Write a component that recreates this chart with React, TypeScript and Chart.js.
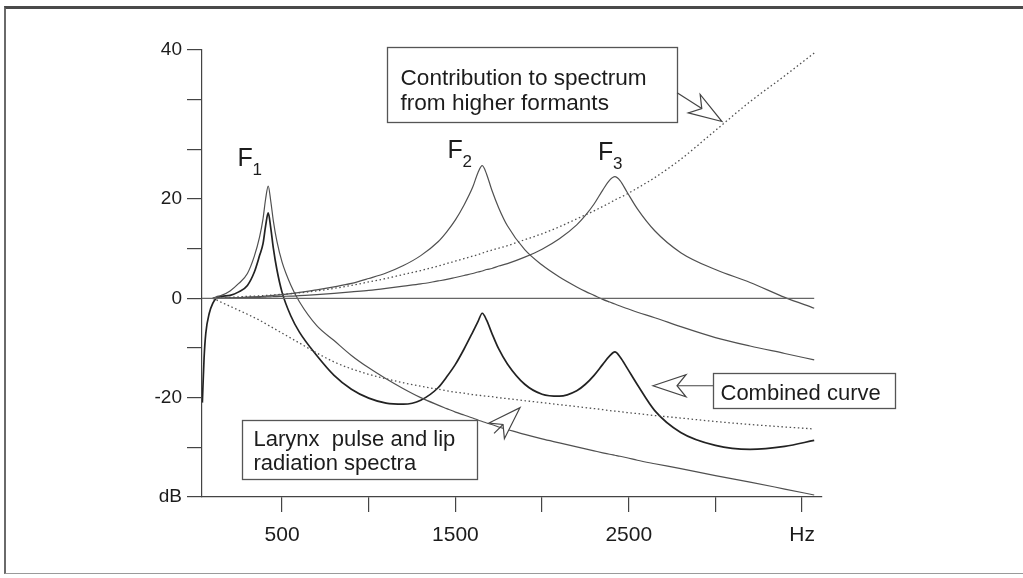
import React, { useEffect, useRef } from "react";
import { Chart, registerables } from "chart.js";

Chart.register(...registerables);

// ---- Data ----
const hz = [40, 50, 60, 80, 100, 120, 150, 200, 250, 300, 340, 370, 390, 405, 420, 435, 450, 470, 500, 550, 600, 700, 800, 900, 1000, 1100, 1200, 1300, 1400, 1450, 1500, 1550, 1600, 1630, 1655, 1680, 1710, 1750, 1800, 1900, 2000, 2100, 2200, 2250, 2300, 2350, 2390, 2420, 2450, 2490, 2550, 2650, 2800, 3000, 3200, 3400, 3570];

const f1Resonance = [null, null, null, null, 0, 0.3, 0.6, 1.5, 3.0, 5.0, 8.5, 12.3, 16.0, 20.0, 22.6, 19.5, 15.5, 11.5, 7.3, 2.7, -0.7, -5.5, -8.5, -11.5, -14.0, -16.2, -18.2, -20.0, -21.5, -22.2, -22.9, -23.5, -24.1, -24.5, -24.8, -25.1, -25.4, -25.9, -26.4, -27.4, -28.3, -29.1, -29.9, -30.3, -30.7, -31.1, -31.4, -31.6, -31.8, -32.1, -32.6, -33.3, -34.3, -35.7, -37.0, -38.4, -39.6];

const f2Resonance = [null, null, null, null, 0, 0, 0.05, 0.1, 0.15, 0.25, 0.3, 0.35, 0.4, 0.45, 0.5, 0.55, 0.6, 0.65, 0.75, 0.95, 1.2, 1.7, 2.3, 3.0, 4.0, 5.1, 6.6, 8.6, 11.4, 13.4, 15.8, 18.8, 22.4, 25.3, 26.7, 25.0, 21.8, 18.2, 14.6, 9.8, 6.7, 4.3, 2.3, 1.4, 0.6, -0.2, -0.75, -1.15, -1.55, -2.05, -2.8, -3.9, -5.7, -7.9, -9.6, -11.1, -12.4];

const f3Resonance = [null, null, null, null, 0, 0, 0, 0.05, 0.1, 0.15, 0.2, 0.2, 0.25, 0.25, 0.3, 0.3, 0.35, 0.35, 0.4, 0.45, 0.55, 0.75, 1.0, 1.3, 1.6, 2.0, 2.45, 2.9, 3.5, 3.8, 4.2, 4.6, 5.0, 5.3, 5.5, 5.8, 6.0, 6.5, 7.0, 8.3, 9.9, 12.0, 14.8, 16.7, 19.0, 21.8, 23.8, 24.5, 23.7, 21.4, 18.0, 13.6, 9.2, 5.8, 3.2, 0.2, -2.0];

const higherFormants = [null, null, null, null, 0, 0.05, 0.1, 0.2, 0.3, 0.4, 0.45, 0.5, 0.55, 0.6, 0.6, 0.65, 0.7, 0.75, 0.8, 0.95, 1.1, 1.5, 2.0, 2.6, 3.3, 4.0, 4.8, 5.6, 6.5, 7.0, 7.5, 8.0, 8.5, 8.8, 9.1, 9.4, 9.7, 10.1, 10.6, 11.8, 13.0, 14.4, 16.0, 16.8, 17.6, 18.5, 19.2, 19.8, 20.3, 21.0, 22.2, 24.3, 28.0, 33.8, 39.6, 44.8, 49.4];

const larynxLip = [null, null, null, null, 0, -0.3, -0.8, -1.6, -2.4, -3.2, -3.9, -4.4, -4.8, -5.1, -5.4, -5.7, -6.0, -6.4, -7.0, -8.0, -9.0, -11.0, -12.8, -14.2, -15.3, -16.2, -17.0, -17.7, -18.3, -18.6, -18.9, -19.1, -19.4, -19.5, -19.6, -19.7, -19.8, -20.0, -20.2, -20.6, -21.0, -21.4, -21.8, -22.0, -22.2, -22.4, -22.6, -22.7, -22.8, -23.0, -23.2, -23.6, -24.1, -24.8, -25.4, -25.9, -26.3];

const combined = [-21, -12, -7, -3, -1, 0, 0.4, 0.6, 1.3, 2.6, 5.3, 8.6, 11.0, 14.6, 17.2, 14.1, 10.0, 5.8, 1.2, -3.5, -6.8, -11.5, -15.5, -18.3, -20.1, -21.1, -21.3, -20.5, -18.0, -15.8, -13.3, -10.2, -6.8, -4.7, -3.0, -4.4, -7.0, -10.2, -13.2, -17.3, -19.3, -19.7, -18.6, -17.3, -15.5, -13.3, -11.6, -10.8, -11.8, -14.0, -17.4, -22.6, -27.0, -29.6, -30.4, -29.8, -28.6];

const zeroLineHz = [38, 3570];
const zeroLineDb = [0, 0];

const xTickValues = [500, 1000, 1500, 2000, 2500, 3000, 3500];
const xTickLabels = ["500", "", "1500", "", "2500", "", "Hz"];
const yTickValues = [-40, -30, -20, -10, 0, 10, 20, 30, 40, 50];
const yTickLabels = ["dB", "", "-20", "", "0", "", "20", "", "", "40"];

const formantNames = ["F", "F", "F"];
const formantSubs = ["1", "2", "3"];

// ---- Layout / styling constants ----
const FONT = '"Liberation Sans", Arial, Helvetica, sans-serif';
const W = 1023;
const H = 578;
const AREA = { left: 202, right: 822, top: 50, bottom: 497 };

// Annotation placement, in axis units (Hz, dB)
const formantLabelPos = [
  { hz: 243, db: 26.6 },
  { hz: 1455, db: 28.2 },
  { hz: 2323, db: 27.8 },
];

const noteBoxes = [
  { hz1: 1106, hz2: 2779, db1: 50.6, db2: 35.6, lines: ["Contribution to spectrum", "from higher formants"], padX: 13, base: 37, gap: 25, size: 22.6 },
  { hz1: 2986, hz2: 4036, db1: -15, db2: -22, lines: ["Combined curve"], padX: 7, base: 26, gap: 24, size: 22 },
  { hz1: 269, hz2: 1625, db1: -24.4, db2: -36.4, lines: ["Larynx  pulse and lip", "radiation spectra"], padX: 11, base: 25, gap: 24, size: 22 },
];

const noteArrows = [
  { fromHz: 2779, fromDb: 41.4, toHz: 3038, toDb: 35.6 },
  { fromHz: 2986, fromDb: -17.6, toHz: 2640, toDb: -17.6 },
  { fromHz: 1723, fromDb: -27.2, toHz: 1873, toDb: -22 },
];

function toPoints(xs: number[], ys: (number | null)[]) {
  const pts: { x: number; y: number }[] = [];
  for (let i = 0; i < xs.length; i++) {
    const y = ys[i];
    if (y !== null && y !== undefined) pts.push({ x: xs[i], y });
  }
  return pts;
}

function drawArrow(ctx: CanvasRenderingContext2D, x0: number, y0: number, x1: number, y1: number) {
  const dx = x1 - x0;
  const dy = y1 - y0;
  const len = Math.hypot(dx, dy) || 1;
  const ux = dx / len;
  const uy = dy / len;
  const nx = -uy;
  const ny = ux;
  const L = 33;
  const HW = 11;
  const N = 24;
  const bx = x1 - ux * L;
  const by = y1 - uy * L;
  const kx = x1 - ux * N;
  const ky = y1 - uy * N;
  ctx.beginPath();
  ctx.moveTo(x0, y0);
  ctx.lineTo(kx, ky);
  ctx.stroke();
  ctx.beginPath();
  ctx.moveTo(x1, y1);
  ctx.lineTo(bx + nx * HW, by + ny * HW);
  ctx.lineTo(kx, ky);
  ctx.lineTo(bx - nx * HW, by - ny * HW);
  ctx.closePath();
  ctx.fillStyle = "#ffffff";
  ctx.fill();
  ctx.stroke();
}

const notesPlugin = {
  id: "notes",
  afterDatasetsDraw(chart: any) {
    const ctx: CanvasRenderingContext2D = chart.ctx;
    const xs = chart.scales.x;
    const ys = chart.scales.y;
    const px = (v: number) => xs.getPixelForValue(v);
    const py = (v: number) => ys.getPixelForValue(v);
    ctx.save();
    ctx.lineJoin = "miter";

    // Text boxes
    for (const b of noteBoxes) {
      const x1 = Math.round(px(b.hz1)) + 0.5;
      const x2 = Math.round(px(b.hz2)) + 0.5;
      const y1 = Math.round(py(b.db1)) + 0.5;
      const y2 = Math.round(py(b.db2)) + 0.5;
      ctx.fillStyle = "#ffffff";
      ctx.fillRect(x1, y1, x2 - x1, y2 - y1);
      ctx.strokeStyle = "#555555";
      ctx.lineWidth = 1.3;
      ctx.strokeRect(x1, y1, x2 - x1, y2 - y1);
      ctx.fillStyle = "#1c1c1c";
      ctx.font = `${b.size}px ${FONT}`;
      ctx.textBaseline = "alphabetic";
      ctx.textAlign = "left";
      b.lines.forEach((t, i) => {
        ctx.fillText(t, x1 + b.padX, y1 + b.base + i * b.gap);
      });
    }

    // Arrows
    ctx.strokeStyle = "#444444";
    ctx.lineWidth = 1.2;
    for (const a of noteArrows) {
      drawArrow(ctx, px(a.fromHz), py(a.fromDb), px(a.toHz), py(a.toDb));
    }

    // Formant labels F1 F2 F3
    ctx.fillStyle = "#1c1c1c";
    ctx.textBaseline = "alphabetic";
    ctx.textAlign = "left";
    formantLabelPos.forEach((p, i) => {
      const x = px(p.hz);
      const y = py(p.db);
      ctx.font = `25px ${FONT}`;
      ctx.fillText(formantNames[i], x, y);
      ctx.font = `17px ${FONT}`;
      ctx.fillText(formantSubs[i], x + 15, y + 9);
    });
    ctx.restore();
  },
};

export default function App() {
  const canvasRef = useRef<HTMLCanvasElement | null>(null);

  useEffect(() => {
    const canvas = canvasRef.current;
    if (!canvas) return;

    const thin = { borderColor: "#505050", borderWidth: 1.2 };
    const dotted = { borderColor: "#505050", borderWidth: 1.3, borderDash: [1.5, 2.6] };

    const chart = new Chart(canvas, {
      type: "line",
      data: {
        datasets: [
          { label: "0 dB", data: toPoints(zeroLineHz, zeroLineDb), borderColor: "#666666", borderWidth: 1.1, cubicInterpolationMode: "default", tension: 0 },
          { label: "Contribution from higher formants", data: toPoints(hz, higherFormants), ...dotted },
          { label: "Larynx pulse and lip radiation", data: toPoints(hz, larynxLip), ...dotted },
          { label: "F3", data: toPoints(hz, f3Resonance), ...thin },
          { label: "F2", data: toPoints(hz, f2Resonance), ...thin },
          { label: "F1", data: toPoints(hz, f1Resonance), ...thin },
          { label: "Combined curve", data: toPoints(hz, combined), borderColor: "#222222", borderWidth: 1.7 },
        ] as any,
      },
      options: {
        animation: false,
        responsive: false,
        devicePixelRatio: 1,
        parsing: false as any,
        normalized: true,
        layout: { padding: { left: 0, top: AREA.top, right: W - AREA.right, bottom: 0 } },
        elements: {
          point: { radius: 0, hoverRadius: 0 },
          line: { cubicInterpolationMode: "monotone", fill: false },
        },
        plugins: {
          legend: { display: false },
          tooltip: { enabled: false },
        },
        events: [],
        scales: {
          x: {
            type: "linear",
            min: 38,
            max: 3615,
            afterBuildTicks: (axis: any) => {
              axis.ticks = xTickValues.map((v) => ({ value: v }));
            },
            afterFit: (axis: any) => {
              axis.height = H - AREA.bottom;
            },
            grid: { drawOnChartArea: false, drawTicks: true, tickLength: 15, color: "#444444", lineWidth: 1.2 },
            border: { display: true, color: "#444444", width: 1.2 },
            ticks: {
              autoSkip: false,
              maxRotation: 0,
              padding: 11,
              color: "#1c1c1c",
              font: { family: FONT, size: 21 },
              callback: (_v: any, i: number) => xTickLabels[i],
            },
          },
          y: {
            type: "linear",
            min: -40,
            max: 50,
            afterBuildTicks: (axis: any) => {
              axis.ticks = yTickValues.map((v) => ({ value: v }));
            },
            afterFit: (axis: any) => {
              axis.width = AREA.left;
            },
            grid: { drawOnChartArea: false, drawTicks: true, tickLength: 15, color: "#444444", lineWidth: 1.2 },
            border: { display: true, color: "#444444", width: 1.2 },
            ticks: {
              autoSkip: false,
              padding: 5,
              color: "#1c1c1c",
              font: { family: FONT, size: 19 },
              callback: (_v: any, i: number) => yTickLabels[i],
            },
          },
        },
      } as any,
      plugins: [notesPlugin],
    });

    return () => {
      chart.destroy();
    };
  }, []);

  return (
    <div style={{ position: "absolute", left: 0, top: 0, width: W, height: H, background: "#ffffff", overflow: "hidden" }}>
      <div
        style={{
          position: "absolute",
          left: 4,
          top: 6,
          width: W + 10,
          height: H - 10,
          borderTop: "3px solid #4a4a4a",
          borderLeft: "2px solid #6a6a6a",
          borderBottom: "1px solid #9a9a9a",
          boxSizing: "border-box",
        }}
      />
      <canvas ref={canvasRef} width={W} height={H} style={{ position: "absolute", left: 0, top: 0, width: W, height: H }} />
    </div>
  );
}
